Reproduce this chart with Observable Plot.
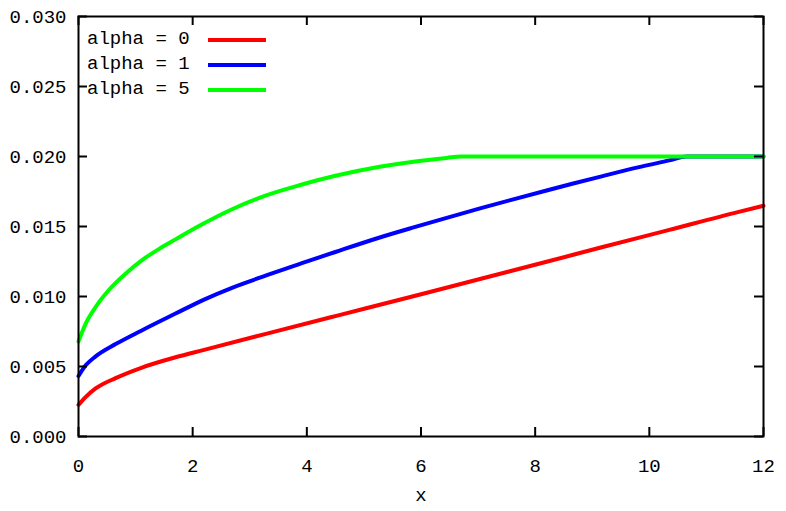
<!DOCTYPE html>
<html>
<head>
<meta charset="utf-8">
<script src="https://cdn.jsdelivr.net/npm/d3@7"></script>
<script src="https://cdn.jsdelivr.net/npm/@observablehq/plot@0.6"></script>
<style>
  html, body { margin: 0; padding: 0; background: #fff; }
  #wrap { position: relative; width: 786px; height: 511px; }
  #legend { position: absolute; left: 87px; top: 27px; font-family: "Liberation Mono", "DejaVu Sans Mono", monospace; font-size: 19px; color: #000; }
  .row { height: 25px; line-height: 25px; display: flex; align-items: center; }
  .row span.lbl { width: 121px; white-space: pre; }
  .row span.sw { display: inline-block; width: 58px; height: 4px; }
</style>
</head>
<body>
<div id="wrap"><div id="legend"></div></div>
<script>
// ---- data ----
const seriesNames = ["alpha = 0", "alpha = 1", "alpha = 5"];
const seriesColors = ["#ff0000", "#0000ff", "#00ff00"];

const redX = [0, 0.12, 0.3, 0.65, 1.1, 1.7, 2.2, 3.3, 4.5, 5.9, 7.05, 8.2, 9.2, 10.35, 11.55, 12];
const redY = [0.00226, 0.0028, 0.00343, 0.00417, 0.00491, 0.00566, 0.00619, 0.00735, 0.0086, 0.01005, 0.01127, 0.01248, 0.01355, 0.01476, 0.01603, 0.01648];

const blueX = [0, 0.13, 0.3, 0.65, 1.1, 1.7, 2.2, 2.7, 3.3, 3.9, 4.5, 5.25, 5.9, 6.45, 7.05, 7.6, 8.2, 8.65, 9.2, 9.8, 10.35, 10.65, 12];
const blueY = [0.00432, 0.0051, 0.00572, 0.0066, 0.00756, 0.00878, 0.00978, 0.01064, 0.01152, 0.01236, 0.01318, 0.01418, 0.01497, 0.01562, 0.01631, 0.01692, 0.01757, 0.01805, 0.01862, 0.01922, 0.01972, 0.0200, 0.0200];

const greenX = [0, 0.13, 0.3, 0.54, 0.83, 1.12, 1.42, 1.7, 2.15, 2.7, 3.3, 3.9, 4.5, 5.25, 5.9, 6.45, 6.7, 12];
const greenY = [0.00679, 0.0081, 0.00925, 0.0105, 0.01165, 0.01262, 0.01342, 0.01408, 0.01512, 0.01625, 0.01724, 0.01798, 0.01862, 0.01925, 0.01965, 0.0199, 0.0200, 0.0200];

const xTicks = [0, 2, 4, 6, 8, 10, 12];
const yTicks = [0, 0.005, 0.010, 0.015, 0.020, 0.025, 0.030];
const xLabel = "x";

// ---- build ----
const seriesX = [redX, blueX, greenX];
const seriesY = [redY, blueY, greenY];
const rows = [];
seriesNames.forEach((name, i) => {
  seriesX[i].forEach((x, j) => rows.push({series: name, x, y: seriesY[i][j]}));
});

const W = 786, H = 511;
const mT = 16, mB = 75, mL = 78, mR = 23;
const innerH = H - mT - mB;
const innerW = W - mL - mR;
const tickLen = 9;
const font = "Liberation Mono, DejaVu Sans Mono, monospace";

const chart = Plot.plot({
  width: W,
  height: H,
  marginTop: mT, marginBottom: mB, marginLeft: mL, marginRight: mR,
  style: {fontFamily: font, fontSize: "19px", background: "#fff", color: "#000"},
  x: {domain: [0, 12]},
  y: {domain: [0, 0.030]},
  color: {domain: seriesNames, range: seriesColors},
  marks: [
    Plot.line(rows, {x: "x", y: "y", z: "series", stroke: "series", strokeWidth: 4, curve: "monotone-x"}),
    Plot.frame({stroke: "#000", strokeWidth: 2}),
    // inward ticks, bottom & top
    Plot.tickX(xTicks, {x: d => d, stroke: "#000", strokeWidth: 2, insetTop: innerH - tickLen}),
    Plot.tickX(xTicks, {x: d => d, stroke: "#000", strokeWidth: 2, insetBottom: innerH - tickLen}),
    // inward ticks, left & right
    Plot.tickY(yTicks, {y: d => d, stroke: "#000", strokeWidth: 2, insetRight: innerW - tickLen}),
    Plot.tickY(yTicks, {y: d => d, stroke: "#000", strokeWidth: 2, insetLeft: innerW - tickLen}),
    Plot.axisX(xTicks, {tickSize: 0, tickPadding: 22, fontSize: 19, label: null, tickFormat: d => String(d)}),
    Plot.axisY(yTicks, {tickSize: 0, tickPadding: 12, fontSize: 19, label: null, tickFormat: d3.format(".3f")}),
    Plot.text([xLabel], {text: d => d, frameAnchor: "bottom", dy: 64, fontSize: 19, fill: "#000"})
  ]
});

const wrap = document.getElementById("wrap");
wrap.insertBefore(chart, wrap.firstChild);

const legend = document.getElementById("legend");
seriesNames.forEach((name, i) => {
  const row = document.createElement("div");
  row.className = "row";
  const lbl = document.createElement("span");
  lbl.className = "lbl";
  lbl.textContent = name;
  const sw = document.createElement("span");
  sw.className = "sw";
  sw.style.background = seriesColors[i];
  row.appendChild(lbl);
  row.appendChild(sw);
  legend.appendChild(row);
});
</script>
</body>
</html>
